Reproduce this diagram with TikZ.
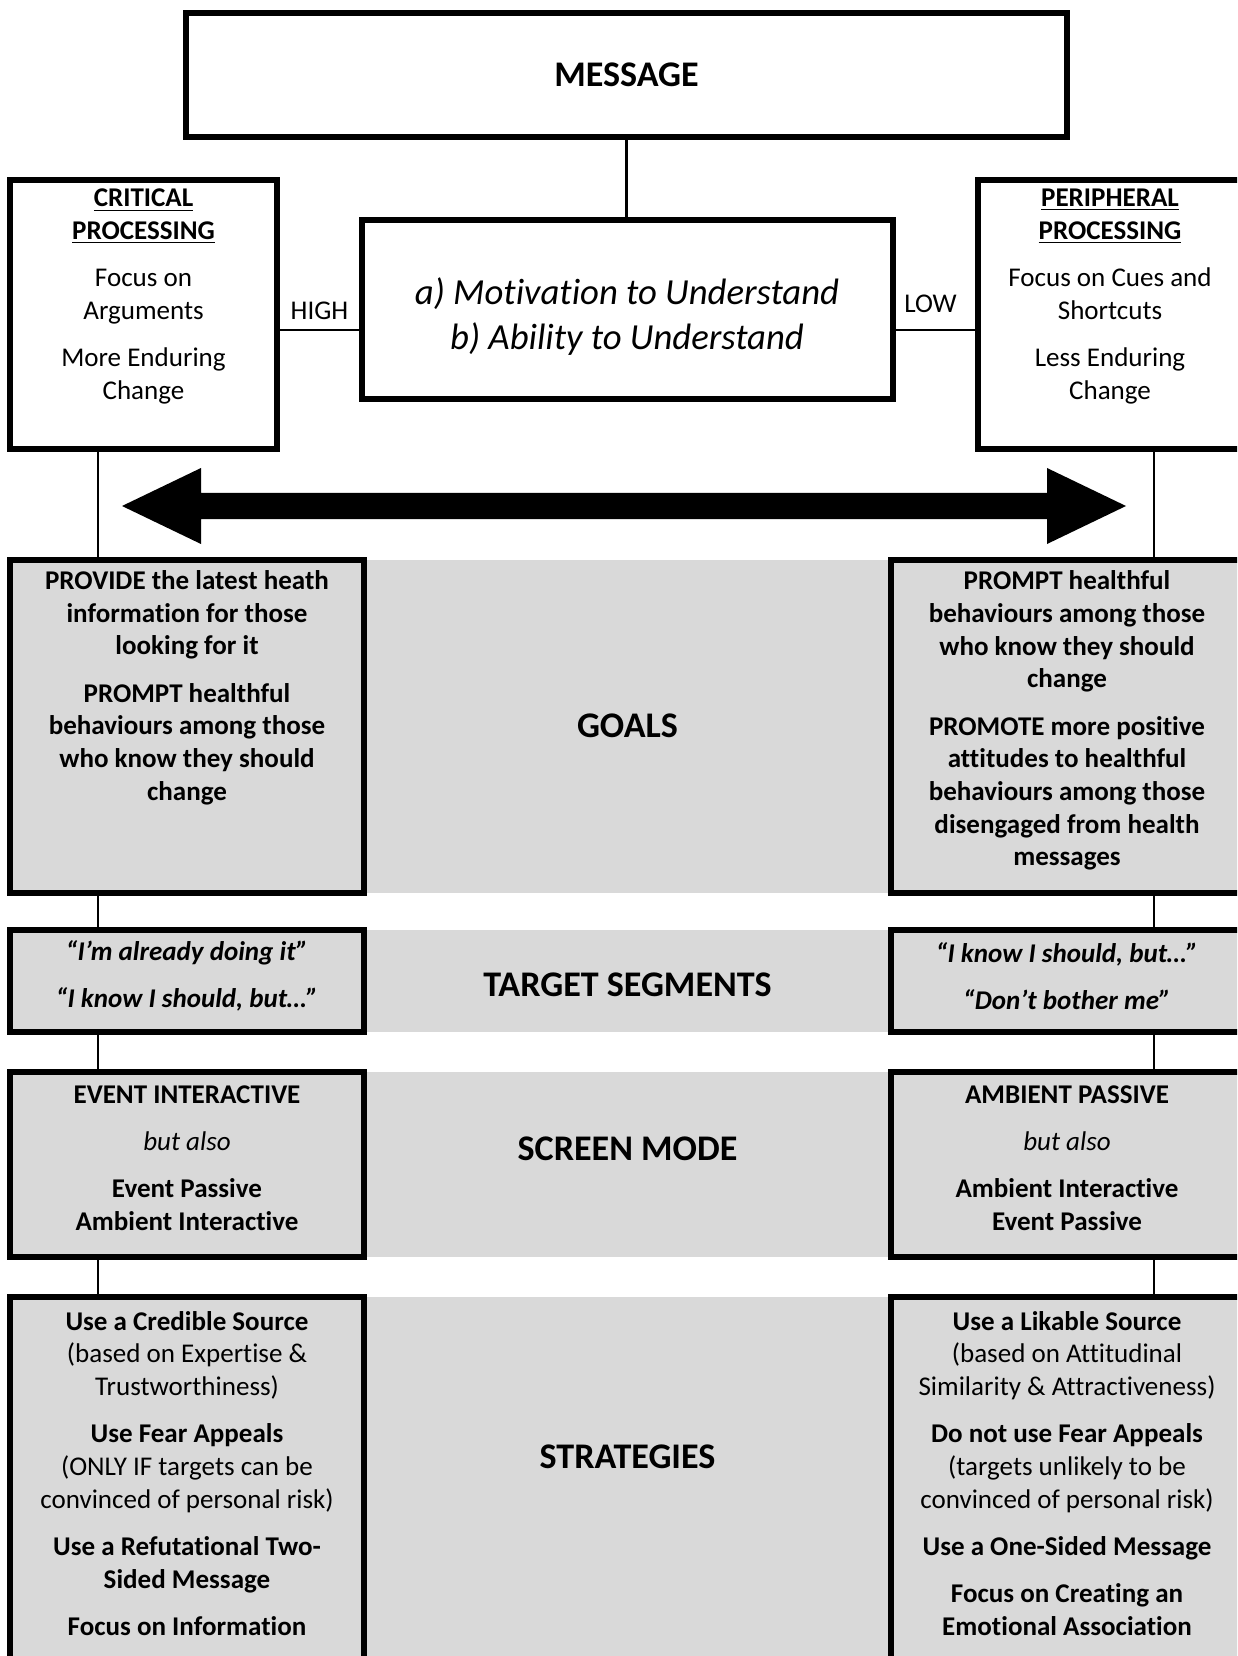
\documentclass[tikz,border=0pt]{standalone}
\usepackage{fontspec}
\setmainfont{Carlito}[Ligatures={NoCommon,NoContextual}, Contextuals=NoAlternate]
\definecolor{bandgray}{HTML}{D9D9D9}
\newcommand{\pxu}{0.0156cm}
\tikzset{
  frame/.style={draw, line width=2.3pt, inner sep=0pt, outer sep=0pt},
  cell/.style={frame, fill=bandgray},
  band/.style={fill=bandgray, inner sep=0pt, outer sep=0pt},
  link/.style={line width=1.1pt},
  txt/.style={align=center, inner sep=0pt, font=\fontsize{12}{14.5}\selectfont},
  btxt/.style={align=center, inner sep=0pt, font=\bfseries\fontsize{12}{14.5}\selectfont},
  head/.style={inner sep=0pt, font=\bfseries\fontsize{16}{19.5}\selectfont},
}

\begin{document}
\begin{tikzpicture}[x=\pxu, y=-\pxu]
    \clip (0,0) rectangle (1237,1656);
    % grey rows with their two side cells
    \foreach \n/\y/\h in {goal/726.5/333, target/981/102, screen/1164.5/185, strat/1498.5/403} {
    \node[band, minimum width=527*\pxu, minimum height=\h*\pxu] (\n-m) at (627.5,\y) {};
    \node[cell, minimum width=354*\pxu, minimum height=\h*\pxu] (\n-l) at (187,\y) {};
    \node[cell, minimum width=354*\pxu, minimum height=\h*\pxu] (\n-r) at (1068,\y) {};
    }
    % top boxes
    \node[frame, head, minimum width=881*\pxu, minimum height=124*\pxu] (msg) at (626.5,75) {MESSAGE};
    \node[frame, minimum width=531*\pxu, minimum height=179*\pxu] (mot) at (627.5,309.5) {};
    \node[frame, minimum width=267*\pxu, minimum height=269*\pxu] (crit) at (143.5,314.5) {};
    \node[frame, minimum width=267*\pxu, minimum height=269*\pxu] (peri) at (1111.5,314.5) {};
    \node[align=center, inner sep=0pt, font=\itshape\fontsize{16.3}{20}\selectfont] (mot-t) at (627,316.5)
        {a) Motivation to Understand\\b) Ability to Understand};
    \node[txt] (crit-t) at (143.5,296.5) {\underline{\textbf{CRITICAL}}\\\underline{\textbf{PROCESSING}}\\[6.5pt]
        Focus on\\Arguments\\[6.5pt]More Enduring\\Change};
    \node[txt] (peri-t) at (1110,296.5) {\underline{\textbf{PERIPHERAL}}\\\underline{\textbf{PROCESSING}}\\[6.5pt]
        Focus on Cues and\\Shortcuts\\[6.5pt]Less Enduring\\Change};
    % links
    \draw[link] (msg.south) -- (msg.south |- mot.north);
    \coordinate (hl) at (0,330);
    \draw[link] (crit.east |- hl) -- (mot.west |- hl) node[midway, above=4pt, txt] (high) {HIGH};
    \draw[link] (mot.east |- hl) -- (peri.west |- hl) node[midway, above=7pt, txt, xshift=-5*\pxu] (low) {LOW};
    \coordinate (lx) at (98,0);
    \coordinate (rx) at (1154,0);
    \foreach \a/\b in {crit/goal-l, goal-l/target-l, target-l/screen-l, screen-l/strat-l}
    \draw[link] (lx |- \a.south) -- (lx |- \b.north);
    \foreach \a/\b in {peri/goal-r, goal-r/target-r, target-r/screen-r, screen-r/strat-r}
    \draw[link] (rx |- \a.south) -- (rx |- \b.north);
    % double arrow
    \coordinate (al) at (122,506);
    \coordinate (ar) at (1126,506);
    \fill (al) -- ++(79,-38) -- ++(0,25) -- ++(846,0) -- ++(0,-25) -- (ar)
        -- ++(-79,38) -- ++(0,-25) -- ++(-846,0) -- ++(0,25) -- cycle;
    % row titles
    \node[head] (goal-h) at (627.5,726) {GOALS};
    \node[head] (target-h) at (627.5,985) {TARGET SEGMENTS};
    \node[head] (screen-h) at (627.5,1149) {SCREEN MODE};
    \node[head] (strat-h) at (627.5,1457) {STRATEGIES};
    % cell texts
    \node[btxt] (goal-lt) at (187,687.5) {PROVIDE the latest heath\\information for those\\looking for it\\[6.5pt]
        PROMPT healthful\\behaviours among those\\who know they should\\change};
    \node[btxt] (goal-rt) at (1067,720.5) {PROMPT healthful\\behaviours among those\\who know they should\\change\\[6.5pt]
        PROMOTE more positive\\attitudes to healthful\\behaviours among those\\disengaged from health\\messages};
    \node[btxt, font=\bfseries\itshape\fontsize{12}{14.5}\selectfont] (target-lt) at (187,976)
        {“I’m already doing it”\\[6.5pt]“I know I should, but…”};
    \node[btxt, font=\bfseries\itshape\fontsize{12}{14.5}\selectfont] (target-rt) at (1067,976)
        {“I know I should, but…”\\[6.5pt]“Don’t bother me”};
    \node[btxt] (screen-lt) at (187,1158) {EVENT INTERACTIVE\\[6.5pt]\textnormal{\itshape but also}\\[6.5pt]
        Event Passive\\Ambient Interactive};
    \node[btxt] (screen-rt) at (1067,1158) {AMBIENT PASSIVE\\[6.5pt]\textnormal{\itshape but also}\\[6.5pt]
        Ambient Interactive\\Event Passive};
    \node[txt] (strat-lt) at (187,1473.5) {\textbf{Use a Credible Source}\\(based on Expertise \&\\Trustworthiness)\\[6.5pt]
        \textbf{Use Fear Appeals}\\(ONLY IF targets can be\\convinced of personal risk)\\[6.5pt]
        \textbf{Use a Refutational Two-}\\\textbf{Sided Message}\\[6.5pt]\textbf{Focus on Information}};
    \node[txt] (strat-rt) at (1067,1473.5) {\textbf{Use a Likable Source}\\(based on Attitudinal\\Similarity \& Attractiveness)\\[6.5pt]
        \textbf{Do not use Fear Appeals}\\(targets unlikely to be\\convinced of personal risk)\\[6.5pt]
        \textbf{Use a One-Sided Message}\\[6.5pt]\textbf{Focus on Creating an}\\\textbf{Emotional Association}};
\end{tikzpicture}
\end{document}
